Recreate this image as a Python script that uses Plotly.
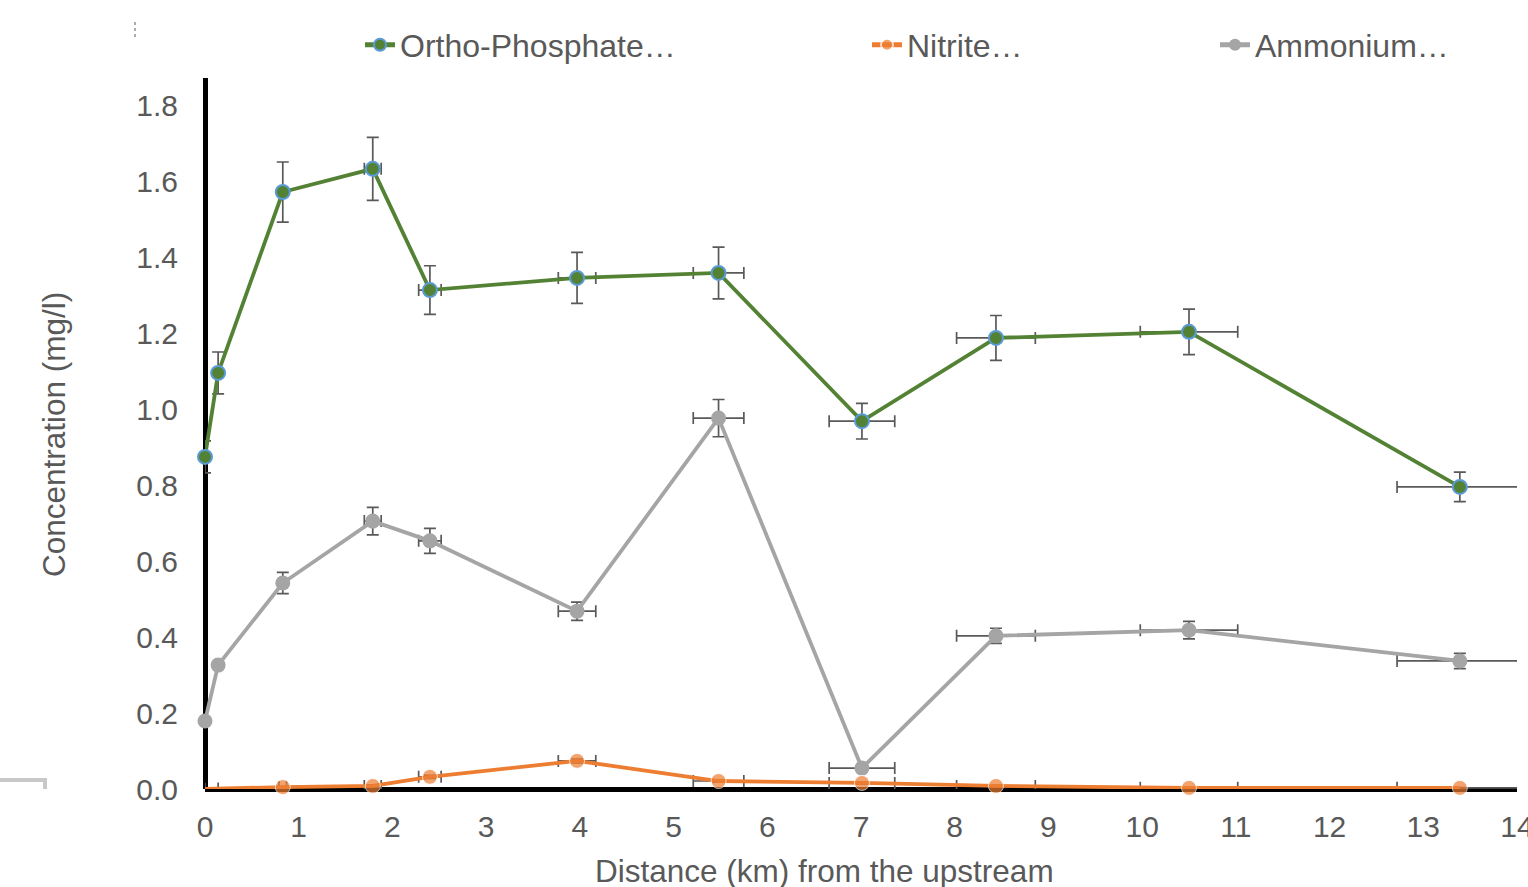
import plotly.graph_objects as go

# ---- data ----
distance_km = [0.0, 0.14, 0.83, 1.79, 2.40, 3.97, 5.48, 7.01, 8.44, 10.50, 13.39]
distance_err = [0.0, 0.0, 0.04, 0.09, 0.12, 0.20, 0.27, 0.35, 0.42, 0.52, 0.67]

phosphate = [0.874, 1.095, 1.571, 1.632, 1.313, 1.345, 1.358, 0.968, 1.187, 1.203, 0.795]
phosphate_err = [0.042, 0.055, 0.079, 0.083, 0.064, 0.067, 0.068, 0.047, 0.059, 0.060, 0.039]

nitrite = [0.000, 0.001, 0.005, 0.008, 0.032, 0.074, 0.021, 0.016, 0.008, 0.003, 0.003]
nitrite_err = [0.0, 0.0, 0.002, 0.003, 0.004, 0.005, 0.003, 0.003, 0.002, 0.001, 0.001]

ammonium = [0.179, 0.326, 0.542, 0.705, 0.653, 0.468, 0.976, 0.055, 0.403, 0.418, 0.337]
ammonium_err = [0.0, 0.008, 0.028, 0.036, 0.033, 0.024, 0.049, 0.008, 0.020, 0.023, 0.020]

series_names = ["Ortho-Phosphate…", "Nitrite…", "Ammonium…"]
x_ticks = list(range(0, 15))
y_ticks = [0.0, 0.2, 0.4, 0.6, 0.8, 1.0, 1.2, 1.4, 1.6, 1.8]

# ---- layout geometry (pixels) ----
W, H = 1528, 887
L, R, T, B = 205, 11, 78, 98
PW, PH = W - L - R, H - T - B

def px(xp):
    return (xp - L) / PW

def py(yp):
    return (H - B - yp) / PH

FONT = "Liberation Sans, Arial, Helvetica, sans-serif"
TXT = "#595959"
ERR = "#595959"

fig = go.Figure()

def err(arr):
    return dict(type="data", array=arr, visible=True, color=ERR, thickness=1.7, width=6)

fig.add_trace(go.Scatter(
    x=distance_km, y=ammonium, name=series_names[2], mode="lines+markers",
    line=dict(color="#A5A5A5", width=3.8),
    marker=dict(color="#A5A5A5", size=15),
    error_x=err(distance_err), error_y=err(ammonium_err),
    cliponaxis=False, legend="legend3", showlegend=True))

fig.add_trace(go.Scatter(
    x=distance_km, y=nitrite, name=series_names[1], mode="lines+markers",
    line=dict(color="#ED7D31", width=3.8),
    marker=dict(color="#ED7D31", size=[0, 0] + [15] * 9),
    error_x=err(distance_err), error_y=err(nitrite_err),
    cliponaxis=False, legend="legend2", showlegend=True))

fig.add_trace(go.Scatter(
    x=distance_km, y=phosphate, name=series_names[0], mode="lines+markers",
    line=dict(color="#548235", width=3.8),
    marker=dict(color="#548235", size=14, line=dict(color="#5B9BD5", width=2)),
    error_x=err(distance_err), error_y=err(phosphate_err),
    cliponaxis=False, legend="legend", showlegend=True))

legend_common = dict(orientation="h", yanchor="middle", xanchor="left",
                     y=py(45), font=dict(family=FONT, size=32, color=TXT),
                     bgcolor="rgba(0,0,0,0)", borderwidth=0, itemsizing="constant")

fig.update_layout(
    width=W, height=H,
    showlegend=True,
    margin=dict(l=L, r=R, t=T, b=B, pad=0, autoexpand=False),
    paper_bgcolor="white", plot_bgcolor="white",
    font=dict(family=FONT, color=TXT),
    legend=dict(x=px(360), **legend_common),
    legend2=dict(x=px(867), **legend_common),
    legend3=dict(x=px(1215), **legend_common),
    xaxis=dict(range=[0, 14], tickvals=x_ticks, ticktext=[str(v) for v in x_ticks],
               showgrid=False, showline=False, ticks="", automargin=False,
               zeroline=True, zerolinecolor="black", zerolinewidth=5,
               tickfont=dict(family=FONT, size=30, color=TXT),
               ticklabelstandoff=17, ticklabeloverflow="allow"),
    yaxis=dict(range=[0, PH / 380.0], tickvals=y_ticks,
               ticktext=[f"{v:.1f}" for v in y_ticks],
               showgrid=False, showline=False, ticks="", automargin=False,
               zeroline=True, zerolinecolor="black", zerolinewidth=5,
               tickfont=dict(family=FONT, size=30, color=TXT),
               ticklabelstandoff=26),
    annotations=[
        dict(text="Distance (km) from the upstream", xref="paper", yref="paper",
             x=px(824), y=py(871), xanchor="center", yanchor="middle", showarrow=False,
             font=dict(family=FONT, size=31.5, color=TXT)),
        dict(text="Concentration (mg/l)", xref="paper", yref="paper",
             x=px(54), y=py(435), xanchor="center", yanchor="middle", showarrow=False,
             textangle=-90, font=dict(family=FONT, size=31.5, color=TXT)),
    ],
    shapes=[
        dict(type="path", xref="paper", yref="paper",
             path=f"M {px(0)} {py(780)} L {px(45)} {py(780)} L {px(45)} {py(789)}",
             line=dict(color="#C8C8C8", width=4)),
        dict(type="line", xref="paper", yref="paper",
             x0=px(135), x1=px(135), y0=py(22), y1=py(40),
             line=dict(color="#777777", width=1.2, dash="dot")),
    ],
)

fig.write_html("out.html",
               config={"displayModeBar": False},
               post_script="document.body.style.margin='0';document.body.style.padding='0';"
                           "document.documentElement.style.overflow='hidden';")
